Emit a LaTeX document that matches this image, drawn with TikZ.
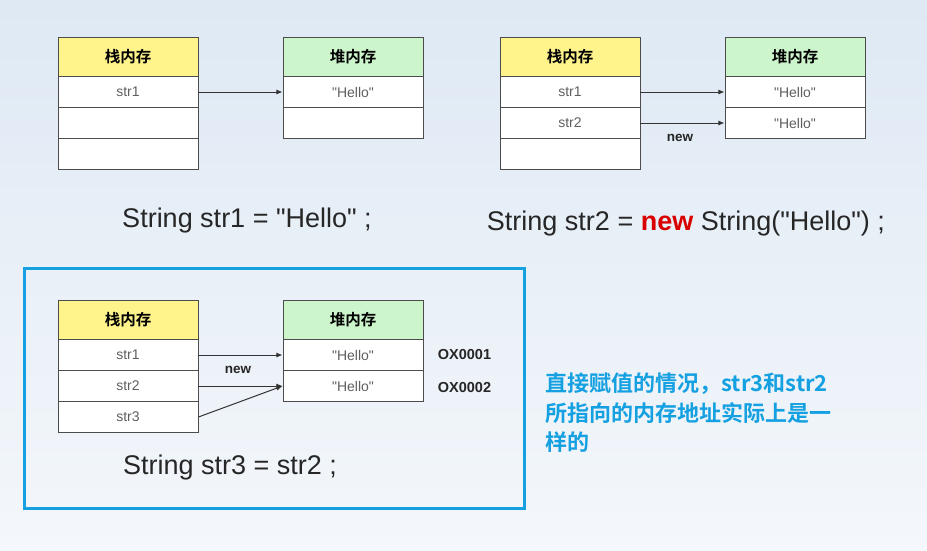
\documentclass[tikz,border=0pt]{standalone}
\usepackage{fontspec}
\setmainfont{Liberation Sans}
\newfontfamily\cjk{Noto Sans CJK SC}[BoldFont={Noto Sans CJK SC Bold}]
\usetikzlibrary{arrows.meta}
\definecolor{stackyellow}{RGB}{255,244,140}
\definecolor{heapgreen}{RGB}{204,245,204}
\definecolor{framecyan}{RGB}{20,160,225}
\definecolor{bgtop}{RGB}{222,233,244}
\definecolor{bgbot}{RGB}{244,247,251}
\definecolor{cellgray}{RGB}{95,95,95}
\newcommand\hello{\textquotedbl Hello\textquotedbl}

\begin{document}
\begin{tikzpicture}[x=1pt,y=-1pt,
  cell/.style={draw=black!70,fill=white,line width=0.9pt,minimum width=140pt,minimum height=31pt,inner sep=0pt,text=cellgray,font=\fontsize{14}{16}\selectfont},
  stackhead/.style={cell,fill=stackyellow,minimum height=39pt,text=black,font=\cjk\bfseries\fontsize{15.5}{17}\selectfont},
  heaphead/.style={stackhead,fill=heapgreen},
  arrow/.style={-{Latex[length=2.2mm,width=1.8mm]},line width=1pt,draw=black!80},
  tag/.style={font=\bfseries\fontsize{13.5}{15}\selectfont,text=black!85},
  stmt/.style={font=\fontsize{27}{30}\selectfont,text=black!85}]
\shade[top color=bgtop,bottom color=bgbot] (0,0) rectangle (927,550);
\useasboundingbox (0,0) rectangle (927,550);
% panel 1
\node[stackhead] (s1h) at (128,56.5) {栈内存};
\node[cell] (s1a) at (128,92) {str1};
\node[cell] (s1b) at (128,123) {};
\node[cell] (s1c) at (128,154) {};
\node[heaphead] (h1h) at (353,56.5) {堆内存};
\node[cell] (h1a) at (353,92) {\hello};
\node[cell] (h1b) at (353,123) {};
\draw[arrow] (s1a.east) -- (h1a.west);
\node[stmt] (t1) at (247,220.5) {String str1 = \hello{} ;};
% panel 2
\node[stackhead] (s2h) at (570,56.5) {栈内存};
\node[cell] (s2a) at (570,92) {str1};
\node[cell] (s2b) at (570,123) {str2};
\node[cell] (s2c) at (570,154) {};
\node[heaphead] (h2h) at (795,56.5) {堆内存};
\node[cell] (h2a) at (795,92) {\hello};
\node[cell] (h2b) at (795,123) {\hello};
\draw[arrow] (s2a.east) -- (h2a.west);
\draw[arrow] (s2b.east) -- (h2b.west);
\node[tag] (n2) at (680,138) {new};
\node[stmt] (t2) at (686,224) {String str2 = {\color{red!85!black}\bfseries new} String(\hello) ;};
% panel 3
\node[draw=framecyan,line width=3pt,minimum width=500pt,minimum height=240pt,inner sep=0pt] (box) at (274,388) {};
\node[stackhead] (s3h) at (128,319.5) {栈内存};
\node[cell] (s3a) at (128,355) {str1};
\node[cell] (s3b) at (128,386) {str2};
\node[cell] (s3c) at (128,417) {str3};
\node[heaphead] (h3h) at (353,319.5) {堆内存};
\node[cell] (h3a) at (353,355) {\hello};
\node[cell] (h3b) at (353,386) {\hello};
\draw[arrow] (s3a.east) -- (h3a.west);
\draw[arrow] (s3b.east) -- (h3b.west);
\draw[arrow] (s3c.east) -- (h3b.west);
\node[tag] (n3) at (238,370) {new};
\node[tag,font=\bfseries\fontsize{14.5}{16}\selectfont] (a1) at (464.5,355) {OX0001};
\node[tag,font=\bfseries\fontsize{14.5}{16}\selectfont] (a2) at (464.5,387) {OX0002};
\node[stmt] (t3) at (230,467.5) {String str3 = str2 ;};
% note
\node[anchor=north west,align=left,text=framecyan,font=\cjk\bfseries\fontsize{22}{29.5}\selectfont] (note) at (542,369.5)
  {直接赋值的情况，str3和str2\\所指向的内存地址实际上是一\\样的};
\end{tikzpicture}
\end{document}
